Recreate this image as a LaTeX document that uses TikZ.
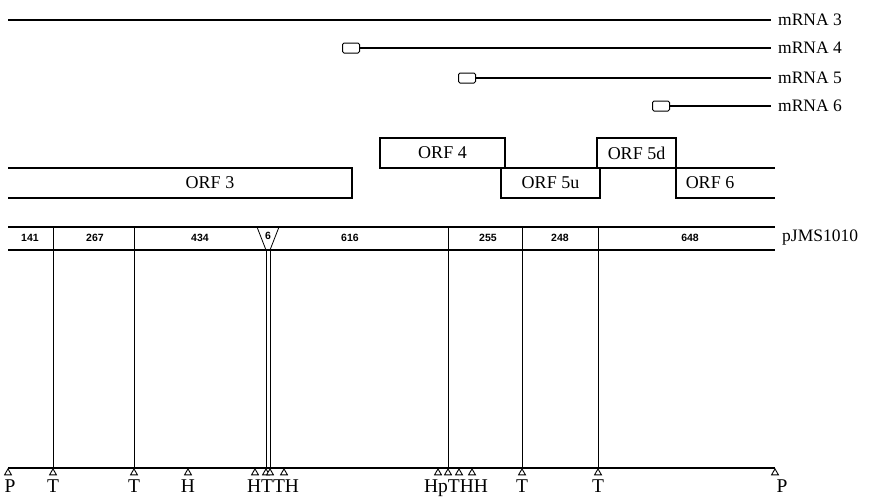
\documentclass[tikz,border=0pt]{standalone}
\usepackage{fontspec}
\setmainfont{Liberation Serif}
\newfontfamily\numfont{Liberation Sans}
\usepackage{tikz}
\usetikzlibrary{positioning,shapes.geometric}

\begin{document}
\begin{tikzpicture}[
      x=1pt,y=-1pt,
      mLabel/.style={anchor=west,inner sep=0pt,font=\fontsize{17.5}{19}\selectfont},
      capBox/.style={draw,fill=white,rounded corners=1.5pt,minimum width=17pt,minimum height=10pt,inner sep=0pt,line width=1pt},
      orfBox/.style={draw,line width=1.1pt,minimum height=30pt,inner sep=0pt,font=\fontsize{18}{20}\selectfont},
      orfText/.style={inner sep=0pt,font=\fontsize{18}{20}\selectfont},
      segNum/.style={inner sep=0pt,font=\numfont\bfseries\fontsize{10.5}{12}\selectfont},
      site/.style={draw,fill=white,regular polygon,regular polygon sides=3,minimum size=8pt,inner sep=0pt,anchor=north,line width=0.9pt},
      sLabel/.style={anchor=north,inner sep=0pt,font=\fontsize{19.5}{21}\selectfont},
      thick line/.style={line width=1.7pt},
      thin line/.style={line width=0.8pt}
    ]
    \useasboundingbox (0,0) rectangle (883,499);

    % Transcripts
    \coordinate (s3) at (8,20);
    \node(m3)[mLabel] at (778,20) {mRNA 3};
    \node(b4)[capBox] at (351,48) {};
    \node(m4)[mLabel] at (778,48) {mRNA 4};
    \node(b5)[capBox] at (467,78) {};
    \node(m5)[mLabel] at (778,78) {mRNA 5};
    \node(b6)[capBox] at (661,106) {};
    \node(m6)[mLabel] at (778,106) {mRNA 6};

    \draw[thick line] (s3) -- ([xshift=-7pt]m3.west);
    \draw[thick line] (b4.east) -- ([xshift=-7pt]m4.west);
    \draw[thick line] (b5.east) -- ([xshift=-7pt]m5.west);
    \draw[thick line] (b6.east) -- ([xshift=-7pt]m6.west);

    % Open reading frames
    \node(orf4)[orfBox,minimum width=125pt] at (442.5,153) {ORF 4};
    \node(orf5d)[orfBox,minimum width=79pt] at (636.5,153) {ORF 5d};
    \node(orf5u)[orfBox,minimum width=99pt] at (550.5,183) {ORF 5u};
    \node(orf3)[orfText] at (210,183) {ORF 3};
    \node(orf6)[orfText] at (710,183) {ORF 6};
    \draw[line width=1.1pt] (8,168) -- (352,168) -- (352,198) -- (8,198);
    \draw[line width=1.1pt] (676,168) -- (775,168);
    \draw[line width=1.1pt] (676,168) -- (676,198) -- (775,198);

    % Plasmid
    \node(pj)[mLabel] at (782,238) {pJMS1010};
    \draw[thick line] (8,227) -- (775,227);
    \draw[thick line] (8,250) -- (775,250);
    \node(n141)[segNum] at (30,238) {141};
    \node(n267)[segNum] at (95,238) {267};
    \node(n434)[segNum] at (200,238) {434};
    \node(n6)[segNum] at (268,236) {6};
    \node(n616)[segNum] at (350,238) {616};
    \node(n255)[segNum] at (488,238) {255};
    \node(n248)[segNum] at (560,238) {248};
    \node(n648)[segNum] at (690,238) {648};
    \draw[thin line] (257,227) -- (266,250);
    \draw[thin line] (279,227) -- (270,250);

    % Restriction sites
    \draw[thick line] (8,468) -- (775,468);
    \node(sP1)[site] at (8,468) {};
    \node(sT1)[site] at (53,468) {};
    \node(sT2)[site] at (134,468) {};
    \node(sH1)[site] at (188,468) {};
    \node(sH2)[site] at (255,468) {};
    \node(sT3)[site] at (266,468) {};
    \node(sT4)[site] at (270,468) {};
    \node(sH3)[site] at (284,468) {};
    \node(sHp)[site] at (438,468) {};
    \node(sT5)[site] at (448,468) {};
    \node(sH4)[site] at (459,468) {};
    \node(sH5)[site] at (472,468) {};
    \node(sT6)[site] at (522,468) {};
    \node(sT7)[site] at (598,468) {};
    \node(sP2)[site] at (775,468) {};

    % Lines from the map down to the sites
    \draw[thin line] (53,227) -- (sT1.north);
    \draw[thin line] (134,227) -- (sT2.north);
    \draw[thin line] (266,250) -- (sT3.north);
    \draw[thin line] (270,250) -- (sT4.north);
    \draw[thin line] (448,227) -- (sT5.north);
    \draw[thin line] (522,227) -- (sT6.north);
    \draw[thin line] (598,227) -- (sT7.north);

    % Site labels
    \node(lP1)[sLabel] at (10,480) {P};
    \node(lT1)[sLabel] at (53,480) {T};
    \node(lT2)[sLabel] at (134,480) {T};
    \node(lH1)[sLabel] at (188,480) {H};
    \node(lHTTH)[sLabel] at (273,480) {HTTH};
    \node(lHpTHH)[sLabel] at (456,480) {HpTHH};
    \node(lT6)[sLabel] at (522,480) {T};
    \node(lT7)[sLabel] at (598,480) {T};
    \node(lP2)[sLabel] at (782,480) {P};
  \end{tikzpicture}
\end{document}
